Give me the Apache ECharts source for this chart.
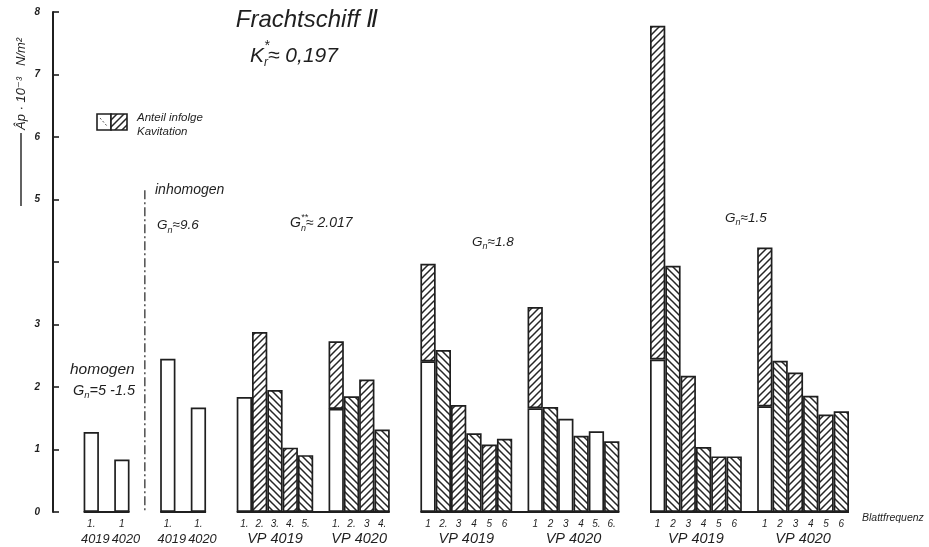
<!DOCTYPE html>
<html>
<head>
<meta charset="utf-8">
<script src="https://cdn.jsdelivr.net/npm/echarts@6/dist/echarts.min.js"></script>
<style>
  html, body { margin: 0; padding: 0; background: #ffffff; }
  #chart { width: 929px; height: 547px; }
</style>
</head>
<body>
<div id="chart"></div>
<script>
// Frequency slots along the x axis: two leading spacers, then bars separated by empty gap slots.
const slotTicks = [
  '', '',
  '1.', '', '1', '', '',
  '1.', '', '1.', '', '',
  '1.', '2.', '3.', '4.', '5.', '', '1.', '2.', '3', '4.', '', '',
  '1', '2.', '3', '4', '5', '6', '', '1', '2', '3', '4', '5.', '6.', '', '',
  '1', '2', '3', '4', '5', '6', '', '1', '2', '3', '4', '5', '6'
];

// Total amplitude per slot (null = empty slot)
const totalVals = [
  null, null,
  1.28, null, 0.84, null, null,
  2.45, null, 1.67, null, null,
  1.84, 2.88, 1.95, 1.03, 0.91, null, 2.73, 1.85, 2.12, 1.32, null, null,
  3.97, 2.59, 1.71, 1.26, 1.08, 1.17, null, 3.28, 1.68, 1.49, 1.22, 1.29, 1.13, null, null,
  7.78, 3.94, 2.18, 1.04, 0.89, 0.89, null, 4.23, 2.42, 2.23, 1.86, 1.56, 1.61
];

// Part without cavitation (the rest of each bar is the cavitation share)
const plainVals = [
  null, null,
  1.28, null, 0.84, null, null,
  2.45, null, 1.67, null, null,
  1.84, 0, 0, 0, 0, null, 1.65, 0, 0, 0, null, null,
  2.41, 0, 0, 0, 0, 0, null, 1.66, 0, 1.49, 0, 1.29, 0, null, null,
  2.44, 0, 0, 0, 0, 0, null, 1.69, 0, 0, 0, 0, 0
];

// Propeller labels under each bar block: [first slot, last slot] and name
const subgroupNames = ['4019', '4020', '4019', '4020', 'VP 4019', 'VP 4020', 'VP 4019', 'VP 4020', 'VP 4019', 'VP 4020'];
const subgroupSlots = [[2, 2], [4, 4], [7, 7], [9, 9], [12, 16], [18, 21], [24, 29], [31, 36], [39, 44], [46, 51]];

// Blocks sharing one base line
const blockSlots = [[2, 4], [7, 9], [12, 21], [24, 36], [39, 51]];

const yTickLabels = ['0', '1', '2', '3', '', '5', '6', '7', '8'];

const INK = '#1f1f1f';
const FONT = '"Liberation Sans", "DejaVu Sans", sans-serif';

function hatchTile(dir) {
  const s = 7;
  const c = document.createElement('canvas');
  c.width = s; c.height = s;
  const g = c.getContext('2d');
  g.fillStyle = '#ffffff';
  g.fillRect(0, 0, s, s);
  g.strokeStyle = '#262626';
  g.lineWidth = 1.5;
  g.beginPath();
  if (dir === '/') {
    g.moveTo(-1, s + 1); g.lineTo(s + 1, -1);
    g.moveTo(-1, 1); g.lineTo(1, -1);
    g.moveTo(s - 1, s + 1); g.lineTo(s + 1, s - 1);
  } else {
    g.moveTo(-1, -1); g.lineTo(s + 1, s + 1);
    g.moveTo(s - 1, -1); g.lineTo(s + 1, 1);
    g.moveTo(-1, s - 1); g.lineTo(1, s + 1);
  }
  g.stroke();
  return c;
}
const hatchFwd = { image: hatchTile('/'), repeat: 'repeat' };
const hatchBack = { image: hatchTile('\\'), repeat: 'repeat' };

// Plain (white) lower part
const plainData = totalVals.map((t, i) => (t == null || !plainVals[i]) ? '-' : plainVals[i]);

// Hatched cavitation part; direction alternates within each run of bars
let anchor = null;
const cavData = totalVals.map((t, i) => {
  if (t == null) { anchor = null; return '-'; }
  const h = +(t - plainVals[i]).toFixed(2);
  if (h <= 0) return '-';
  if (anchor === null) anchor = i;
  const fwd = (i - anchor) % 2 === 0;
  return { value: h, itemStyle: { color: fwd ? hatchFwd : hatchBack } };
});

const chart = echarts.init(document.getElementById('chart'), null, { renderer: 'canvas' });

chart.setOption({
  backgroundColor: '#ffffff',
  animation: false,
  grid: { left: 53, top: 12, width: 796, height: 500, containLabel: false },
  xAxis: {
    type: 'category',
    data: slotTicks.map((_, i) => 's' + i),
    axisLine: { show: false },
    axisTick: { show: false },
    axisLabel: {
      interval: 0,
      margin: 7,
      formatter: (v, i) => slotTicks[i],
      fontStyle: 'italic',
      fontSize: 10,
      fontFamily: FONT,
      color: INK
    },
    splitLine: { show: false }
  },
  yAxis: {
    type: 'value',
    min: 0, max: 8, interval: 1,
    axisLine: { show: true, lineStyle: { color: INK, width: 2 } },
    axisTick: { show: true, inside: true, length: 6, lineStyle: { color: INK, width: 1.6 } },
    axisLabel: {
      margin: 13,
      formatter: v => yTickLabels[v],
      fontStyle: 'italic',
      fontWeight: 'bold',
      fontSize: 10,
      fontFamily: FONT,
      color: INK
    },
    splitLine: { show: false }
  },
  series: [
    {
      name: 'ohne Kavitation',
      type: 'bar',
      stack: 'amp',
      barWidth: '100%',
      data: plainData,
      itemStyle: { color: '#ffffff', borderColor: INK, borderWidth: 1.7 }
    },
    {
      name: 'Anteil infolge Kavitation',
      type: 'bar',
      stack: 'amp',
      barWidth: '100%',
      data: cavData,
      itemStyle: { borderColor: INK, borderWidth: 1.7 }
    }
  ]
});

// ---- annotations ----
const measure = document.createElement('canvas').getContext('2d');
function textW(t, size) {
  measure.font = 'italic ' + size + 'px ' + FONT;
  return measure.measureText(t).width;
}
function txt(x, y, t, size, extra, align) {
  return Object.assign({
    type: 'text', x: x, y: y, silent: true,
    style: {
      text: t, fill: INK, fontSize: size, fontStyle: 'italic', fontFamily: FONT,
      textAlign: align || 'left', textVerticalAlign: 'middle'
    }
  }, extra || {});
}
// Text made of pieces with sub/superscripts
function scripted(x, y, parts) {
  const out = [];
  let cx = x;
  parts.forEach(p => {
    out.push(txt(cx, y + (p.dy || 0), p.t, p.size));
    if (!p.stay) cx += textW(p.t, p.size);
  });
  return out;
}

const px = (slot, val) => chart.convertToPixel({ gridIndex: 0 }, [slot, val]);
const band = px(1, 0)[0] - px(0, 0)[0];
const y0 = px(0, 0)[1];

const g = [];

// base lines under each block of bars
blockSlots.forEach(([a, b]) => {
  const xa = px(a, 0)[0] - band / 2;
  const xb = px(b, 0)[0] + band / 2;
  g.push({ type: 'line', silent: true, shape: { x1: xa, y1: y0, x2: xb, y2: y0 }, style: { stroke: INK, lineWidth: 2 } });
});

// propeller names
subgroupSlots.forEach(([a, b], k) => {
  const single = a === b;
  const cx = (px(a, 0)[0] + px(b, 0)[0]) / 2 + (single ? 4 : 0);
  g.push(txt(cx, 539, subgroupNames[k], single ? 12.8 : 14.5, {}, 'center'));
});

// dash-dot separator between homogeneous and inhomogeneous inflow
const xs = (px(5, 0)[0] + px(6, 0)[0]) / 2;
g.push({
  type: 'line', silent: true,
  shape: { x1: xs, y1: px(5, 5.15)[1], x2: xs, y2: y0 },
  style: { stroke: '#333', lineWidth: 1.3, lineDash: [9, 3, 2, 3] }
});

// title
g.push(txt(307, 20, 'Frachtschiff Ⅱ', 24, {}, 'center'));
scripted(250, 56, [
  { t: 'K', size: 21 },
  { t: '*', size: 14, dy: -10, stay: true },
  { t: 'r', size: 12, dy: 7 },
  { t: '≈ 0,197', size: 21 }
]).forEach(e => g.push(e));

// legend
g.push({ type: 'rect', silent: true, shape: { x: 97, y: 114, width: 14, height: 16 }, style: { fill: '#fff', stroke: INK, lineWidth: 1.6 } });
g.push({ type: 'rect', silent: true, shape: { x: 111, y: 114, width: 16, height: 16 }, style: { fill: hatchFwd, stroke: INK, lineWidth: 1.6 } });
g.push({ type: 'line', silent: true, shape: { x1: 100, y1: 118, x2: 107, y2: 126 }, style: { stroke: '#555', lineWidth: 1, lineDash: [2, 2] } });
g.push(txt(137, 118, 'Anteil infolge', 11.5));
g.push(txt(137, 132, 'Kavitation', 11.5));

// flow labels
g.push(txt(70, 370, 'homogen', 15.5));
scripted(73, 391, [
  { t: 'G', size: 14.5 }, { t: 'n', size: 9.5, dy: 4 }, { t: '=5 -1.5', size: 14.5 }
]).forEach(e => g.push(e));
g.push(txt(155, 190, 'inhomogen', 14));
scripted(157, 225, [
  { t: 'G', size: 13.5 }, { t: 'n', size: 9, dy: 5 }, { t: '≈9.6', size: 13.5 }
]).forEach(e => g.push(e));
scripted(290, 223, [
  { t: 'G', size: 14 }, { t: '**', size: 9, dy: -6, stay: true }, { t: 'n', size: 9, dy: 5 }, { t: '≈ 2.017', size: 14 }
]).forEach(e => g.push(e));
scripted(472, 242, [
  { t: 'G', size: 13.5 }, { t: 'n', size: 9, dy: 4 }, { t: '≈1.8', size: 13.5 }
]).forEach(e => g.push(e));
scripted(725, 218, [
  { t: 'G', size: 13.5 }, { t: 'n', size: 9, dy: 4 }, { t: '≈1.5', size: 13.5 }
]).forEach(e => g.push(e));

g.push(txt(862, 518, 'Blattfrequenz', 10.5));

// y axis caption, reading upwards
g.push({ type: 'line', silent: true, shape: { x1: 21, y1: 206, x2: 21, y2: 133 }, style: { stroke: INK, lineWidth: 1.4 } });
g.push(txt(21, 130, 'Âp · 10⁻³   N/m²', 13, { rotation: Math.PI / 2 }));

chart.setOption({ graphic: g });
</script>
</body>
</html>
